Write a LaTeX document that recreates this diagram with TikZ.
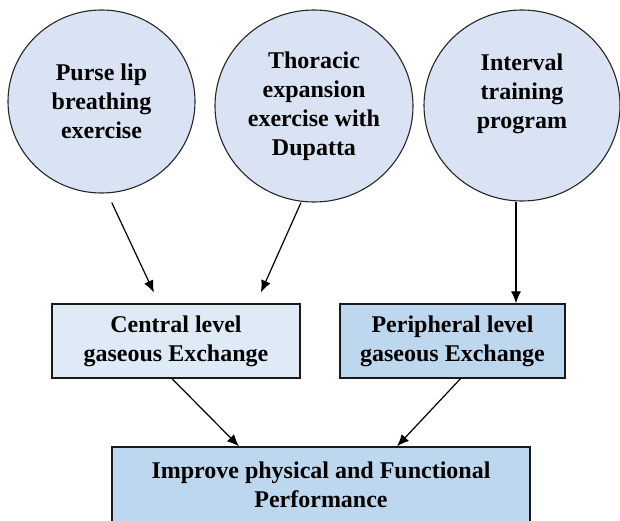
\documentclass[tikz,border=0pt]{standalone}
\usepackage{fontspec}
\setmainfont{Liberation Serif}[BoldFont={Liberation Serif Bold}]
\usepackage{tikz}
\usetikzlibrary{shapes.geometric}
\usetikzlibrary{arrows.meta}
\definecolor{ovalfill}{HTML}{DAE3F3}
\definecolor{paleblue}{HTML}{DEEBF7}
\definecolor{midblue}{HTML}{BDD7EE}
\tikzset{
	exercise/.style={ellipse,draw=black!85,line width=1.1pt,fill=ovalfill,inner sep=0pt,align=center,font=\fontsize{24}{29}\selectfont\bfseries},
	gasbox/.style={rectangle,draw=black!90,line width=1.3pt,inner sep=0pt,align=center,font=\fontsize{24}{29}\selectfont\bfseries},
	flow/.style={line width=1.2pt,-{Latex[length=12pt,width=10pt]}},
}

\begin{document}
\begin{tikzpicture}[x=1pt,y=-1pt]
		\useasboundingbox (0,0) rectangle (620,521);
		% exercises
		\node[exercise,minimum width=187pt,minimum height=183pt] (pl) at (101.5,101.5) {Purse lip\\breathing\\exercise};
		\node[exercise,minimum width=198pt,minimum height=192pt] (te) at (314,106) {Thoracic\\expansion\\exercise with\\Dupatta};
		\node[exercise,minimum width=196pt,minimum height=191pt] (it) at (522,105.5) {Interval\\training\\program\\~};
		% gaseous exchange
		\node[gasbox,fill=paleblue,minimum width=248pt,minimum height=74pt] (cl) at (176,341) {Central level\\gaseous Exchange};
		\node[gasbox,fill=midblue,minimum width=225pt,minimum height=74pt] (pe) at (452.5,341) {Peripheral level\\gaseous Exchange};
		\node[gasbox,fill=midblue,minimum width=418pt,minimum height=76pt] (ip) at (321,485) {Improve physical and Functional\\Performance};
		% arrows
		\draw[flow,shorten <=10pt,shorten >=12pt] ([xshift=6pt]pl.south) -- ([xshift=-17pt]cl.north);
		\draw[flow,shorten >=12pt] ([xshift=-13pt]te.south) -- ([xshift=80pt]cl.north);
		\draw[flow] ([xshift=-6pt]it.south) -- ([xshift=-6pt]it.south |- pe.north);
		\draw[flow] ([xshift=-4pt]cl.south) -- ([xshift=-82pt]ip.north);
		\draw[flow] ([xshift=8pt]pe.south) -- ([xshift=76pt]ip.north);
	\end{tikzpicture}
\end{document}
